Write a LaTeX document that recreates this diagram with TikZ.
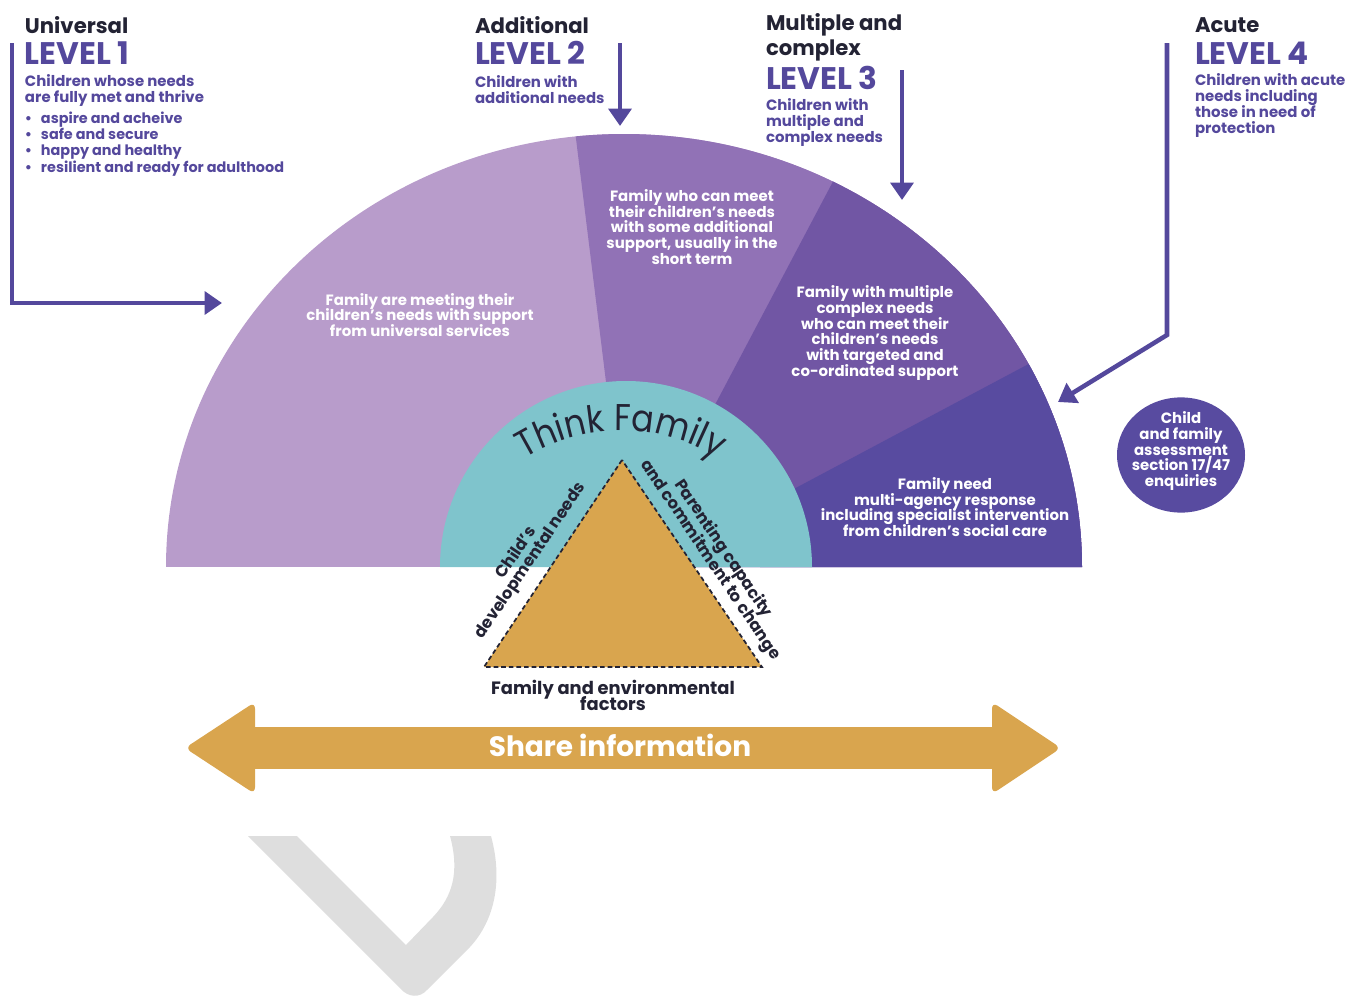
\documentclass[tikz,border=0pt]{standalone}
\usepackage{fontspec}
\setmainfont{Poppins}
\newfontfamily\thinkf[FakeStretch=0.89]{Poppins}
\usetikzlibrary{arrows.meta,decorations.text}
\definecolor{lone}{HTML}{B89CCB}
\definecolor{ltwo}{HTML}{9172B6}
\definecolor{lthree}{HTML}{7156A4}
\definecolor{lfour}{HTML}{584BA0}
\definecolor{teal1}{HTML}{7FC4CC}
\definecolor{gold1}{HTML}{D9A54E}
\definecolor{ink}{HTML}{232334}
\definecolor{purp}{HTML}{54489C}
\definecolor{mark1}{HTML}{DEDEDE}
\newcommand\tfont{\thinkf\fontsize{28}{28}\selectfont}
\lineskiplimit=-100pt
\tikzset{
  x=0.75pt,y=-0.75pt,
  every node/.style={inner sep=0pt,outer sep=0pt},
  headtxt/.style={anchor=west,text=ink,font=\fontsize{15.9}{18.8}\selectfont\bfseries,align=left},
  leveltxt/.style={anchor=west,text=purp,font=\fontsize{23.4}{24}\selectfont\bfseries},
  bodytxt/.style={anchor=west,text=purp,font=\fontsize{11.2}{12}\selectfont\bfseries,align=left},
  listtxt/.style={anchor=west,text=purp,font=\fontsize{10.8}{12.2}\selectfont\bfseries,align=left},
  whitetxt/.style={text=white,font=\fontsize{11.2}{11.75}\selectfont\bfseries,align=center},
  darktxt/.style={text=ink,font=\fontsize{12.3}{12.3}\selectfont\bfseries,align=center},
  envtxt/.style={text=ink,font=\fontsize{13.4}{12}\selectfont\bfseries,align=center},
  connector/.style={draw=purp,line width=3.4pt,-{Triangle[length=13pt,width=17pt]}},
}
\begin{document}
\begin{tikzpicture}
\useasboundingbox (0,0) rectangle (1365,996);
% watermark
\fill[mark1] (248,836) -- (297,836) -- (406,945) -- (433,917) .. controls (452,897) and (460,873) .. (450,836) -- (491,836) .. controls (503,880) and (495,920) .. (470,947) -- (427,990) .. controls (420,998) and (408,998) .. (400,988) -- cycle;
% fan
\begin{scope}
\clip (166,567) arc[start angle=180,end angle=0,x radius=343.5pt,y radius=324.75pt] -- cycle;
\fill[lone] (100,100) rectangle (1200,567);
\fill[ltwo] (570,90) -- (1200,90) -- (1200,600) -- (620,600) -- (606,382) -- cycle;
\fill[lthree] (884,85) -- (1200,85) -- (1200,600) -- (680,600) -- (680,471) -- cycle;
\fill[lfour] (1100,326) -- (1200,326) -- (1200,600) -- (760,600) -- (760,507) -- cycle;
\end{scope}
\fill[teal1] (440,567) arc[start angle=180,end angle=0,radius=139.5pt] -- cycle;
% triangle
\fill[gold1] (622,460) -- (484,667) -- (762,667) -- cycle;
\draw[line width=1.3pt,dash pattern=on 3.5pt off 2.2pt,ink] (622,460) -- (484,667) -- (762,667) -- cycle;
% curved title
\path[decorate,decoration={text along path,text={|\tfont\color{ink}|Think Family},text align={center}}]
  (516,464) arc[start angle=125,end angle=55,radius=137.25pt];
% rotated labels
\node (childa) [darktxt,rotate=56] at (515,552) {Child's};
\node (childb) [darktxt,rotate=56] at (531,561) {developmental needs};
\node (parenta) [darktxt,rotate=-56] at (723,549) {Parenting capacity};
\node (parentb) [darktxt,rotate=-56] at (710,560) {and commitment to change};
\node (envir) [envtxt] at (613,695) {Family and environmental\\factors};
% share arrow
\fill[gold1] (250,727) rectangle (997,769);
\fill[gold1,rounded corners=5pt] (185,748) -- (255,702) -- (255,794) -- cycle;
\fill[gold1,rounded corners=5pt] (1061,748) -- (992,702) -- (992,794) -- cycle;
\node (share) [text=white,font=\fontsize{21}{24}\selectfont\bfseries] at (620,745) {Share information};
% fan texts
\node (fa) [whitetxt] at (420,315) {Family are meeting their\\children's needs with support\\from universal services};
\node (fb) [whitetxt] at (692,227) {Family who can meet\\their children's needs\\with some additional\\support, usually in the\\short term};
\node (fc) [whitetxt] at (875,333) {Family with multiple\\complex needs\\who can meet their\\children's needs\\with targeted and\\co-ordinated support};
\node (fd) [whitetxt] at (945,507) {Family need\\multi-agency response\\including specialist intervention\\from children's social care};
% circle
\fill[lfour] (1181,455) ellipse[x radius=48pt,y radius=43.2pt];
\node (circ) [whitetxt] at (1181,451) {Child\\and family\\assessment\\section 17/47\\enquiries};
% headers
\node (h1) [headtxt] at (25,25) {Universal};
\node (l1) [leveltxt] at (25,53) {LEVEL 1};
\node (b1) [bodytxt] at (25,90) {Children whose needs\\are fully met and thrive};
\node (b1b) [listtxt] at (25,144) {\makebox[12pt][l]{•}aspire and acheive\\\makebox[12pt][l]{•}safe and secure\\\makebox[12pt][l]{•}happy and healthy\\\makebox[12pt][l]{•}resilient and ready for adulthood};
\node (h2) [headtxt] at (475,25) {Additional};
\node (l2) [leveltxt] at (475,53) {LEVEL 2};
\node (b2) [bodytxt] at (475,90) {Children with\\additional needs};
\node (h3) [headtxt] at (766,37) {Multiple and\\complex};
\node (l3) [leveltxt] at (766,78) {LEVEL 3};
\node (b3) [bodytxt] at (766,123) {Children with\\multiple and\\complex needs};
\node (h4) [headtxt] at (1195,25) {Acute};
\node (l4) [leveltxt] at (1195,53) {LEVEL 4};
\node (b4) [bodytxt] at (1195,106) {Children with acute\\needs including\\those in need of\\protection};
% connectors
\coordinate (s1) at (12,43); \coordinate (c1) at (12,303); \coordinate (e1) at (222,303);
\coordinate (s2) at (620,43); \coordinate (e2) at (620,126);
\coordinate (s3) at (902,70); \coordinate (e3) at (902,200);
\coordinate (s4) at (1167,43); \coordinate (c4) at (1167,335); \coordinate (e4) at (1058,402);
\draw[connector] (s1) -- (c1) -- (e1);
\draw[connector] (s2) -- (e2);
\draw[connector] (s3) -- (e3);
\draw[connector] (s4) -- (c4) -- (e4);
\end{tikzpicture}
\end{document}
